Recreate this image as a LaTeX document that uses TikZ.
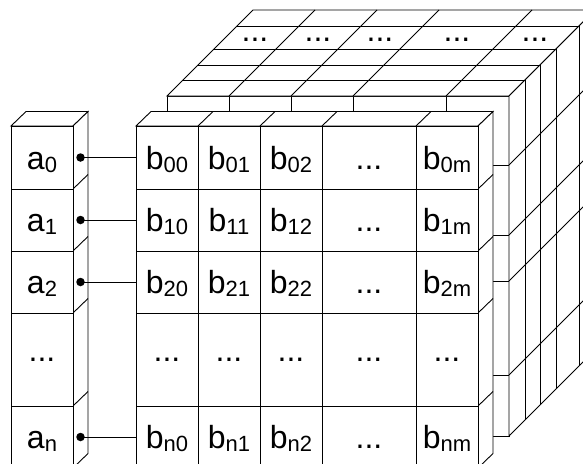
\documentclass[tikz,border=0pt]{standalone}
\usepackage{fontspec}
\setmainfont{Liberation Sans}
\newcommand\sbs[1]{\raisebox{-3pt}{\fontsize{22}{24}\selectfont #1}}
\begin{document}
\begin{tikzpicture}[x=1pt,y=-1pt,line width=0.9pt,line join=miter,
  face/.style={draw=black,fill=white},
  grid/.style={draw=black},
  cell/.style={draw=black,fill=white,inner sep=0pt,minimum width=62pt,
     text height=23.5pt,text depth=0pt,font=\fontsize{32}{36}\selectfont},
  wide/.style={minimum width=94pt},
  ell/.style={text height=3pt,text depth=0pt},
  topdots/.style={inner sep=0pt,text height=3pt,text depth=0pt,font=\fontsize{32}{36}\selectfont},
  pin/.style={circle,fill=black,inner sep=0pt,minimum size=8.5pt},
  link/.style={draw=black}]
\useasboundingbox (0,0) rectangle (583,463);
\clip (0,0) rectangle (583,463);

% ---------- back block ----------
\filldraw[face] (167,96) rectangle (509,436);
\foreach \x in {229,291,353,446} \draw[grid] (\x,96) -- (\x,436);
\foreach \y in {165,235,281,375} \draw[grid] (167,\y) -- (509,\y);
\filldraw[face] (167,96) -- (253,10) -- (595,10) -- (509,96) -- cycle;
\foreach \d in {16,31,47,70} \draw[grid] (167+\d,96-\d) -- (509+\d,96-\d);
\foreach \x in {229,291,353,446} \draw[grid] (\x,96) -- (\x+86,10);
\filldraw[face] (509,96) -- (595,10) -- (595,350) -- (509,436) -- cycle;
\foreach \d in {16,31,47,70} \draw[grid] (509+\d,96-\d) -- (509+\d,436-\d);
\foreach \y in {165,235,281,375} \draw[grid] (509,\y) -- (595,\y-86);
\node[topdots] (t0) at (255,40) {...};
\node[topdots] (t1) at (318,40) {...};
\node[topdots] (t2) at (380,40) {...};
\node[topdots] (t3) at (457,40) {...};
\node[topdots] (t4) at (535,40) {...};

% ---------- front slab ----------
\filldraw[face] (136,126) -- (151,111.5) -- (493,111.5) -- (478,126) -- cycle;
\foreach \x in {198,260,322,416} \draw[grid] (\x,126) -- (\x+15,111.5);
\filldraw[face] (478,126) -- (493,111.5) -- (493,453.5) -- (478,468) -- cycle;
\foreach \y in {189,251,313,406} \draw[grid] (478,\y) -- (493,\y-14.5);

\node[cell,minimum height=63pt] (b00) at (167,157.5) {b\sbs{00}};
\node[cell,minimum height=63pt] (b01) at (229,157.5) {b\sbs{01}};
\node[cell,minimum height=63pt] (b02) at (291,157.5) {b\sbs{02}};
\node[cell,wide,minimum height=63pt] (b03) at (369,157.5) {...};
\node[cell,minimum height=63pt] (b04) at (447,157.5) {b\sbs{0m}};
\node[cell,minimum height=62pt] (b10) at (167,220) {b\sbs{10}};
\node[cell,minimum height=62pt] (b11) at (229,220) {b\sbs{11}};
\node[cell,minimum height=62pt] (b12) at (291,220) {b\sbs{12}};
\node[cell,wide,minimum height=62pt] (b13) at (369,220) {...};
\node[cell,minimum height=62pt] (b14) at (447,220) {b\sbs{1m}};
\node[cell,minimum height=62pt] (b20) at (167,282) {b\sbs{20}};
\node[cell,minimum height=62pt] (b21) at (229,282) {b\sbs{21}};
\node[cell,minimum height=62pt] (b22) at (291,282) {b\sbs{22}};
\node[cell,wide,minimum height=62pt] (b23) at (369,282) {...};
\node[cell,minimum height=62pt] (b24) at (447,282) {b\sbs{2m}};
\node[cell,ell,minimum height=93pt] (b30) at (167,359.5) {...};
\node[cell,ell,minimum height=93pt] (b31) at (229,359.5) {...};
\node[cell,ell,minimum height=93pt] (b32) at (291,359.5) {...};
\node[cell,wide,ell,minimum height=93pt] (b33) at (369,359.5) {...};
\node[cell,ell,minimum height=93pt] (b34) at (447,359.5) {...};
\node[cell,minimum height=62pt] (b40) at (167,437) {b\sbs{n0}};
\node[cell,minimum height=62pt] (b41) at (229,437) {b\sbs{n1}};
\node[cell,minimum height=62pt] (b42) at (291,437) {b\sbs{n2}};
\node[cell,wide,minimum height=62pt] (b43) at (369,437) {...};
\node[cell,minimum height=62pt] (b44) at (447,437) {b\sbs{nm}};

% ---------- a column ----------
\filldraw[face] (11,126) -- (26,111.5) -- (88,111.5) -- (73,126) -- cycle;
\filldraw[face] (73,126) -- (88,111.5) -- (88,453.5) -- (73,468) -- cycle;
\foreach \y in {189,251,313,406} \draw[grid] (73,\y) -- (88,\y-14.5);
\node[cell,minimum height=63pt] (a0) at (42,157.5) {a\sbs{0}};
\node[cell,minimum height=62pt] (a1) at (42,220) {a\sbs{1}};
\node[cell,minimum height=62pt] (a2) at (42,282) {a\sbs{2}};
\node[cell,ell,minimum height=93pt] (a3) at (42,359.5) {...};
\node[cell,minimum height=62pt] (a4) at (42,437) {a\sbs{n}};

% ---------- pointers ----------
\node[pin] (p0) at (80.5,157.5) {};
\node[pin] (p1) at (80.5,220) {};
\node[pin] (p2) at (80.5,282) {};
\node[pin] (p4) at (80.5,437) {};
\draw[link] (p0.center) -- (b00.west);
\draw[link] (p1.center) -- (b10.west);
\draw[link] (p2.center) -- (b20.west);
\draw[link] (p4.center) -- (b40.west);
\end{tikzpicture}
\end{document}
